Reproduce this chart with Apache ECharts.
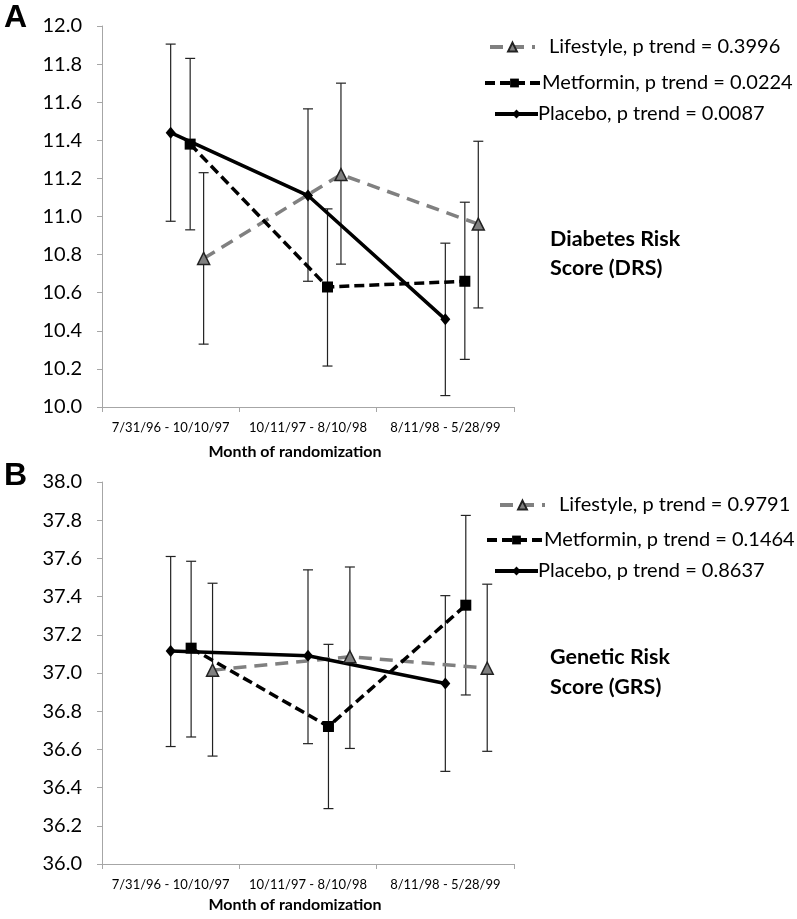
<!DOCTYPE html>
<html>
<head>
<meta charset="utf-8">
<script src="https://cdn.jsdelivr.net/npm/echarts@6/dist/echarts.min.js"></script>
<style>
html,body{margin:0;padding:0;background:#fff;}
#chart{width:797px;height:919px;}
</style>
</head>
<body>
<div id="chart"></div>
<script>
// ---- data ----
const categories = ['7/31/96 - 10/10/97', '10/11/97 - 8/10/98', '8/11/98 - 5/28/99'];
const yTicksA = [10.0, 12.0, 0.2];
const yTicksB = [36.0, 38.0, 0.2];

const drsPlacebo = [11.44, 11.11, 10.46];
const drsPlaceboLo = [10.975, 10.66, 10.06];
const drsPlaceboHi = [11.905, 11.565, 10.86];
const drsMetformin = [11.38, 10.63, 10.66];
const drsMetforminLo = [10.93, 10.215, 10.25];
const drsMetforminHi = [11.83, 11.04, 11.075];
const drsLifestyle = [10.78, 11.22, 10.96];
const drsLifestyleLo = [10.33, 10.75, 10.52];
const drsLifestyleHi = [11.23, 11.70, 11.395];

const grsPlacebo = [37.115, 37.09, 36.945];
const grsPlaceboLo = [36.615, 36.63, 36.485];
const grsPlaceboHi = [37.61, 37.54, 37.405];
const grsMetformin = [37.13, 36.72, 37.355];
const grsMetforminLo = [36.665, 36.29, 36.885];
const grsMetforminHi = [37.585, 37.15, 37.825];
const grsLifestyle = [37.015, 37.085, 37.025];
const grsLifestyleLo = [36.565, 36.605, 36.59];
const grsLifestyleHi = [37.47, 37.555, 37.465];

const namesA = ['Lifestyle, p trend = 0.3996', 'Metformin, p trend = 0.0224', 'Placebo, p trend = 0.0087'];
const namesB = ['Lifestyle, p trend = 0.9791', 'Metformin, p trend = 0.1464', 'Placebo, p trend = 0.8637'];

// ---- styling ----
const FONT = 'Lato';
const axisColor = '#a6a6a6';
const offsetsA = {pl: 0, me: 0.142, li: 0.24};
const offsetsB = {pl: 0, me: 0.149, li: 0.305};

const styles = {
  li: {color: '#808080', lineType: [13, 8], symbol: 'triangle', symbolSize: 12, border: '#222', legendW: 45, textPad: 9},
  me: {color: '#000', lineType: [10, 5], symbol: 'rect', symbolSize: 11, border: '#000', legendW: 59, textPad: -7},
  pl: {color: '#000', lineType: 'solid', symbol: 'diamond', symbolSize: [10, 12], border: '#000', legendW: 43, textPad: -5}
};

const chart = echarts.init(document.getElementById('chart'));

function pts(vals, off) { return vals.map((v, i) => [i + off, v]); }
function errs(lo, hi, off) { return lo.map((l, i) => [i + off, l, hi[i]]); }

function errSeries(data, xi, yi) {
  return {
    type: 'custom', xAxisIndex: xi, yAxisIndex: yi, z: 1, silent: true,
    encode: {x: 0, y: [1, 2]},
    data: data,
    renderItem: function (params, api) {
      const lo = api.coord([api.value(0), api.value(1)]);
      const hi = api.coord([api.value(0), api.value(2)]);
      const w = 5;
      const st = {stroke: '#222', lineWidth: 1.2};
      return {type: 'group', children: [
        {type: 'line', shape: {x1: lo[0], y1: lo[1], x2: hi[0], y2: hi[1]}, style: st},
        {type: 'line', shape: {x1: lo[0] - w, y1: lo[1], x2: lo[0] + w, y2: lo[1]}, style: st},
        {type: 'line', shape: {x1: hi[0] - w, y1: hi[1], x2: hi[0] + w, y2: hi[1]}, style: st}
      ]};
    }
  };
}

function lineSeries(name, key, data, xi, yi) {
  const s = styles[key];
  return {
    name: name, type: 'line', xAxisIndex: xi, yAxisIndex: yi, z: 3,
    data: data, symbol: s.symbol, symbolSize: s.symbolSize, showSymbol: true,
    lineStyle: {color: s.color, width: 3.5, type: s.lineType},
    itemStyle: {color: s.color, borderColor: s.border, borderWidth: key === 'li' ? 1.5 : 0},
    emphasis: {disabled: true}
  };
}

const grids = [
  {left: 102, top: 26, width: 412, height: 381},
  {left: 102, top: 482, width: 412, height: 382}
];

function catAxis(gi, margin) {
  return {
    type: 'category', gridIndex: gi, data: categories, boundaryGap: true, position: 'bottom',
    axisLine: {lineStyle: {color: axisColor, width: 1}},
    axisTick: {show: true, alignWithLabel: false, length: 5, lineStyle: {color: axisColor}},
    axisLabel: {color: '#000', fontFamily: FONT, fontSize: 13, margin: margin, interval: 0},
    splitLine: {show: false}
  };
}
function valXAxis(gi) {
  return {type: 'value', gridIndex: gi, min: -0.5, max: 2.5, show: false};
}
function yAx(gi, t) {
  return {
    type: 'value', gridIndex: gi, min: t[0], max: t[1], interval: t[2], position: 'left',
    axisLine: {show: true, onZero: false, lineStyle: {color: axisColor, width: 1}},
    axisTick: {show: true, length: 5, lineStyle: {color: axisColor}},
    axisLabel: {color: '#000', fontFamily: FONT, fontSize: 20, margin: 20,
      formatter: v => v.toFixed(1)},
    splitLine: {show: false}
  };
}

function legendItem(name, key, left, top) {
  const s = styles[key];
  return {
    data: [name], left: left, top: top, orient: 'horizontal',
    itemWidth: s.legendW, itemHeight: 11, itemGap: 0, padding: 0,
    selectedMode: false,
    lineStyle: {width: 4},
    textStyle: {fontFamily: FONT, fontSize: 20, lineHeight: 22, color: '#000', padding: [0, 0, 0, s.textPad]}
  };
}

const option = {
  backgroundColor: '#fff',
  animation: false,
  grid: grids,
  xAxis: [catAxis(0, 14), valXAxis(0), catAxis(1, 14), valXAxis(1)],
  yAxis: [yAx(0, yTicksA), yAx(1, yTicksB)],
  title: [
    {text: 'A', left: 4, top: 2, textStyle: {fontFamily: 'Liberation Sans', fontWeight: 'bold', fontSize: 32, color: '#000'}, padding: 0},
    {text: 'B', left: 4, top: 460, textStyle: {fontFamily: 'Liberation Sans', fontWeight: 'bold', fontSize: 32, color: '#000'}, padding: 0},
    {text: 'Diabetes Risk\nScore (DRS)', left: 550, top: 225, padding: 0,
      textStyle: {fontFamily: FONT, fontWeight: 'bold', fontSize: 21.5, color: '#000', lineHeight: 29}},
    {text: 'Genetic Risk\nScore (GRS)', left: 550, top: 642, padding: 0,
      textStyle: {fontFamily: FONT, fontWeight: 'bold', fontSize: 21.5, color: '#000', lineHeight: 30}},
    {text: 'Month of randomization', left: 295, top: 444, textAlign: 'center', padding: 0,
      textStyle: {fontFamily: FONT, fontWeight: 'bold', fontSize: 16, color: '#000'}},
    {text: 'Month of randomization', left: 295, top: 897, textAlign: 'center', padding: 0,
      textStyle: {fontFamily: FONT, fontWeight: 'bold', fontSize: 16, color: '#000'}}
  ],
  legend: [
    legendItem(namesA[0], 'li', 488, 36),
    legendItem(namesA[1], 'me', 483, 72),
    legendItem(namesA[2], 'pl', 493, 103),
    legendItem(namesB[0], 'li', 498, 494),
    legendItem(namesB[1], 'me', 485, 529),
    legendItem(namesB[2], 'pl', 493, 560)
  ],
  series: [
    errSeries(errs(drsPlaceboLo, drsPlaceboHi, offsetsA.pl), 1, 0),
    errSeries(errs(drsMetforminLo, drsMetforminHi, offsetsA.me), 1, 0),
    errSeries(errs(drsLifestyleLo, drsLifestyleHi, offsetsA.li), 1, 0),
    lineSeries(namesA[0], 'li', pts(drsLifestyle, offsetsA.li), 1, 0),
    lineSeries(namesA[1], 'me', pts(drsMetformin, offsetsA.me), 1, 0),
    lineSeries(namesA[2], 'pl', pts(drsPlacebo, offsetsA.pl), 1, 0),
    errSeries(errs(grsPlaceboLo, grsPlaceboHi, offsetsB.pl), 3, 1),
    errSeries(errs(grsMetforminLo, grsMetforminHi, offsetsB.me), 3, 1),
    errSeries(errs(grsLifestyleLo, grsLifestyleHi, offsetsB.li), 3, 1),
    lineSeries(namesB[0], 'li', pts(grsLifestyle, offsetsB.li), 3, 1),
    lineSeries(namesB[1], 'me', pts(grsMetformin, offsetsB.me), 3, 1),
    lineSeries(namesB[2], 'pl', pts(grsPlacebo, offsetsB.pl), 3, 1)
  ]
};
chart.setOption(option);
</script>
</body>
</html>
